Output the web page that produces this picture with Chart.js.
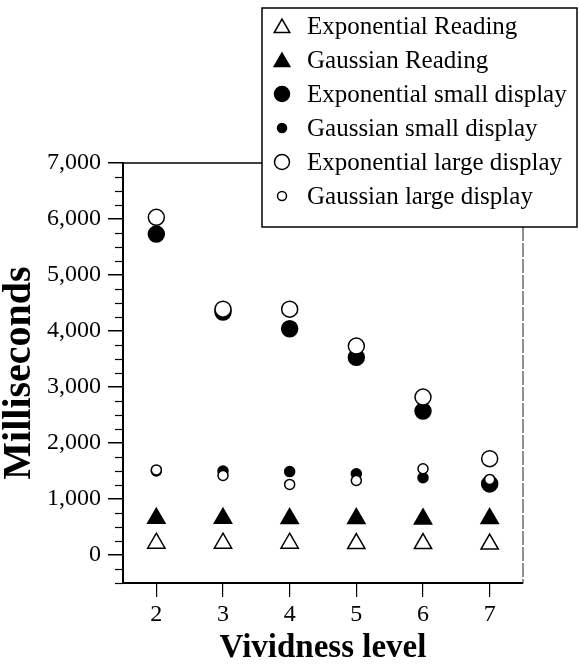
<!DOCTYPE html>
<html>
<head>
<meta charset="utf-8">
<script src="https://cdn.jsdelivr.net/npm/chart.js@4/dist/chart.umd.min.js"></script>
<style>
  html, body { margin: 0; padding: 0; background: #fff; }
  #wrap { width: 579px; height: 665px; }
</style>
</head>
<body>
<div id="wrap"><canvas id="myChart" width="579" height="665"></canvas></div>
<script>
'use strict';

// values
const vividness = [2, 3, 4, 5, 6, 7];
const expReading = [210, 210, 210, 205, 205, 195];
const gaussReading = [655, 655, 650, 650, 645, 650];
const expSmall = [5730, 4340, 4040, 3530, 2570, 1270];
const gaussSmall = [1500, 1500, 1490, 1450, 1380, 1320];
const expLarge = [6030, 4390, 4390, 3730, 2820, 1720];
const gaussLarge = [1520, 1420, 1260, 1330, 1540, 1350];
const yTicks = [0, 1000, 2000, 3000, 4000, 5000, 6000, 7000];
const seriesLabels = [
  'Exponential Reading',
  'Gaussian Reading',
  'Exponential small display',
  'Gaussian small display',
  'Exponential large display',
  'Gaussian large display'
];

const serif = '"Liberation Serif", "Times New Roman", serif';
const chartCanvas = document.getElementById('myChart');

function toPoints(values) {
  return vividness.map(function(v, i) { return { x: v, y: values[i] }; });
}

function makeSet(label, values, style, radius, filled, order) {
  return {
    label: label,
    data: toPoints(values),
    pointStyle: style,
    pointRadius: radius,
    pointHoverRadius: radius,
    pointBorderWidth: 1.5,
    pointBackgroundColor: filled ? '#000' : '#fff',
    pointBorderColor: '#000',
    showLine: false,
    order: order
  };
}

// box round the plot, minor ticks and the legend
const framePlugin = {
  id: 'frame',
  beforeDatasetsDraw(chart) {
    const ctx = chart.ctx;
    const a = chart.chartArea;
    const y = chart.scales.y;
    ctx.save();
    ctx.strokeStyle = '#000';
    ctx.lineWidth = 1.5;
    ctx.beginPath();
    ctx.moveTo(a.left, a.top);
    ctx.lineTo(a.right, a.top);
    ctx.stroke();
    ctx.strokeStyle = '#555';
    ctx.lineWidth = 1.3;
    ctx.setLineDash([14, 2]);
    ctx.beginPath();
    ctx.moveTo(a.right, a.top);
    ctx.lineTo(a.right, a.bottom);
    ctx.stroke();
    ctx.setLineDash([]);
    // minor ticks every 250
    ctx.strokeStyle = '#000';
    ctx.lineWidth = 1.2;
    for (let v = y.min; v <= y.max; v += 250) {
      if (v % 1000 === 0) continue;
      const py = Math.round(y.getPixelForValue(v)) + 0.5;
      ctx.beginPath();
      ctx.moveTo(a.left - 8, py);
      ctx.lineTo(a.left, py);
      ctx.stroke();
    }
    ctx.restore();
  },
  afterDraw(chart) {
    const ctx = chart.ctx;
    const box = { left: 262, top: 8, right: 577, bottom: 227 };
    ctx.save();
    ctx.fillStyle = '#fff';
    ctx.fillRect(box.left, box.top, box.right - box.left, box.bottom - box.top);
    ctx.strokeStyle = '#000';
    ctx.lineWidth = 1.5;
    ctx.strokeRect(box.left, box.top, box.right - box.left, box.bottom - box.top);
    ctx.font = '25px ' + serif;
    ctx.textBaseline = 'middle';
    ctx.textAlign = 'left';
    const legendRadius = [9, 9, 7.5, 4.5, 7.5, 4.5];
    chart.data.datasets.forEach(function(ds, i) {
      const cy = 26 + i * 34;
      ctx.fillStyle = ds.pointBackgroundColor;
      ctx.strokeStyle = ds.pointBorderColor;
      ctx.lineWidth = 1.5;
      Chart.helpers.drawPoint(ctx, {
        pointStyle: ds.pointStyle,
        radius: legendRadius[i],
        borderWidth: 1.5,
        rotation: 0
      }, 282, ds.pointStyle === 'triangle' ? cy + 2 : cy);
      ctx.fillStyle = '#000';
      ctx.fillText(ds.label, 307, cy + 1);
    });
    ctx.restore();
  }
};

new Chart(chartCanvas, {
  type: 'scatter',
  data: {
    datasets: [
      makeSet(seriesLabels[0], expReading, 'triangle', 10, false, 3),
      makeSet(seriesLabels[1], gaussReading, 'triangle', 10, true, 3),
      makeSet(seriesLabels[2], expSmall, 'circle', 8, true, 2),
      makeSet(seriesLabels[3], gaussSmall, 'circle', 5, true, 2),
      makeSet(seriesLabels[4], expLarge, 'circle', 8, false, 1),
      makeSet(seriesLabels[5], gaussLarge, 'circle', 5, false, 0)
    ]
  },
  options: {
    responsive: false,
    animation: false,
    locale: 'en-US',
    layout: { padding: { top: 163, right: 56, left: 0, bottom: 0 } },
    plugins: {
      legend: { display: false },
      tooltip: { enabled: false }
    },
    scales: {
      x: {
        type: 'linear',
        min: 1.5,
        max: 7.5,
        afterBuildTicks: function(scale) {
          scale.ticks = vividness.map(function(v) { return { value: v }; });
        },
        afterFit: function(scale) { scale.height = 82; },
        grid: { drawOnChartArea: false, tickLength: 14, color: '#000', lineWidth: 1.2 },
        border: { color: '#000', width: 2 },
        ticks: { color: '#000', font: { family: serif, size: 24 }, padding: 3 },
        title: {
          display: true,
          text: 'Vividness level',
          color: '#000',
          font: { family: serif, size: 33, weight: 'bold', lineHeight: 1 },
          padding: { top: 0, bottom: 0 }
        }
      },
      y: {
        min: -500,
        max: 7000,
        afterBuildTicks: function(scale) {
          scale.ticks = yTicks.map(function(v) { return { value: v }; });
        },
        afterFit: function(scale) { scale.width = 123; },
        grid: { drawOnChartArea: false, tickLength: 15, color: '#000', lineWidth: 1.5 },
        border: { color: '#000', width: 2 },
        ticks: { color: '#000', font: { family: serif, size: 24 }, padding: 7 },
        title: {
          display: true,
          text: 'Milliseconds',
          color: '#000',
          font: { family: serif, size: 40, weight: 'bold', lineHeight: 1 },
          padding: { top: 0, bottom: 0 }
        }
      }
    }
  },
  plugins: [framePlugin]
});
</script>
</body>
</html>
